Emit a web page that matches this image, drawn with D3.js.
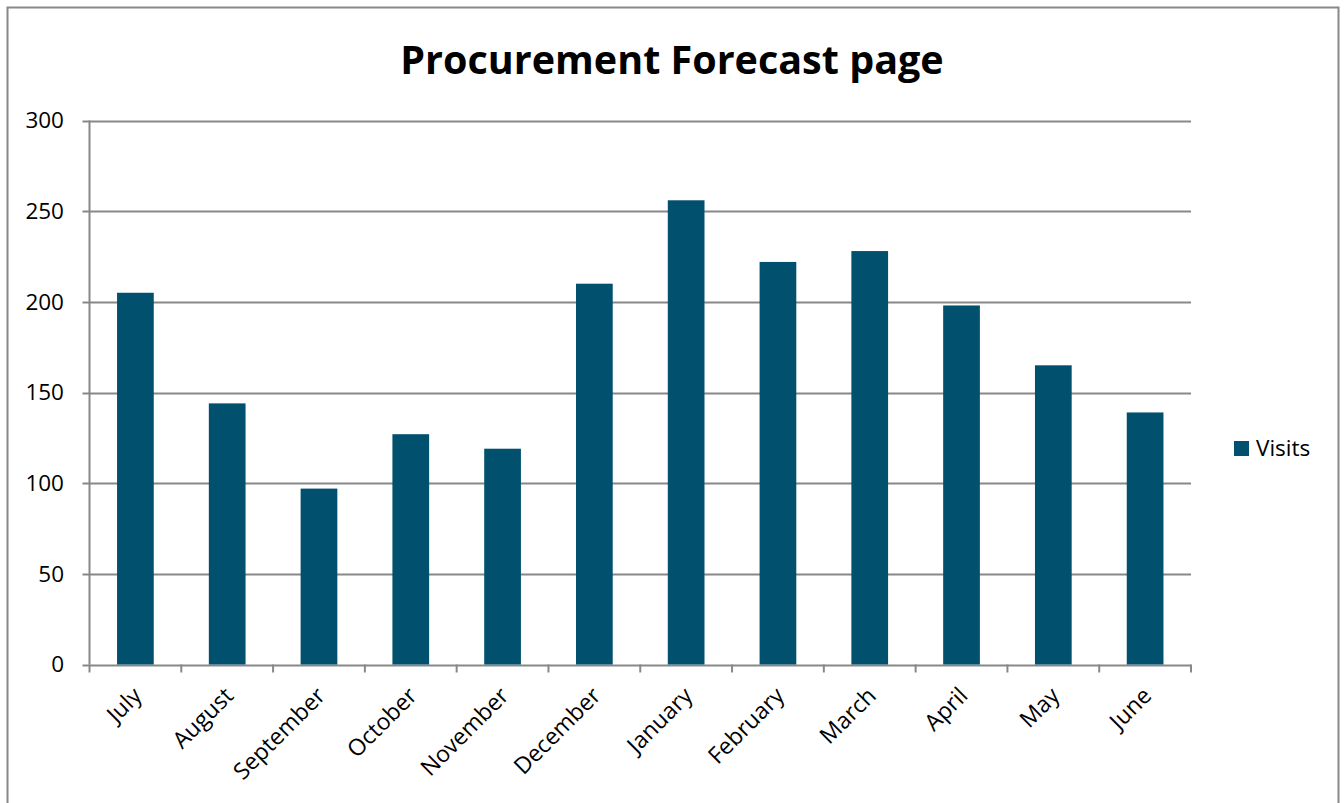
<!DOCTYPE html>
<html>
<head>
<meta charset="utf-8">
<script src="https://cdn.jsdelivr.net/npm/d3@7"></script>
<style>
  body { margin: 0; background: #fff; }
  text { font-family: "Open Sans", sans-serif; fill: #000; }
</style>
</head>
<body>
<svg id="chart" width="1344" height="803"></svg>
<script>
// chart data
const months = ['July', 'August', 'September', 'October', 'November', 'December',
    'January', 'February', 'March', 'April', 'May', 'June'];
const visits = [205, 144, 97, 127, 119, 210, 256, 222, 228, 198, 165, 139];
const yTicks = [0, 50, 100, 150, 200, 250, 300];
const seriesName = 'Visits';
const chartTitle = 'Procurement Forecast page';

const svg = d3.select('#chart');
const margin = {left: 89.5, right: 1191, top: 120.5, bottom: 664.5};
const barColor = '#00506e';
const gridColor = '#888888';

// outer frame
svg.append('rect')
    .attr('x', 7.5).attr('y', 7.5)
    .attr('width', 1331).attr('height', 810)
    .attr('fill', 'none')
    .attr('stroke', '#888')
    .attr('stroke-width', 2);

let x = d3.scaleBand()
    .domain(months)
    .range([margin.left, margin.right])
    .paddingInner(0.6)
    .paddingOuter(0.3);

let y = d3.scaleLinear()
    .domain([0, 300])
    .range([margin.bottom, margin.top]);

// horizontal gridlines
svg.append('g')
    .selectAll('line')
    .data(yTicks)
    .enter()
    .append('line')
    .attr('x1', margin.left - 7)
    .attr('x2', margin.right)
    .attr('y1', d => Math.round(y(d)) + 0.5)
    .attr('y2', d => Math.round(y(d)) + 0.5)
    .attr('stroke', gridColor)
    .attr('stroke-width', 2);

// y tick labels
svg.append('g')
    .selectAll('text')
    .data(yTicks)
    .enter()
    .append('text')
    .attr('x', 64)
    .attr('y', d => y(d))
    .attr('dy', '0.35em')
    .attr('text-anchor', 'end')
    .style('font-size', '22.5px')
    .text(d => d);

// bars
svg.append('g')
    .selectAll('rect')
    .data(visits)
    .enter()
    .append('rect')
    .attr('x', (d, i) => x(months[i]))
    .attr('y', d => y(d))
    .attr('width', x.bandwidth())
    .attr('height', d => y(0) - y(d))
    .attr('fill', barColor);

// axes lines
svg.append('line')
    .attr('x1', margin.left).attr('x2', margin.left)
    .attr('y1', margin.top).attr('y2', margin.bottom)
    .attr('stroke', gridColor).attr('stroke-width', 2);

let catEdges = d3.range(months.length + 1).map(i => margin.left + i * (margin.right - margin.left) / months.length);
svg.append('g')
    .selectAll('line')
    .data(catEdges)
    .enter()
    .append('line')
    .attr('x1', d => d).attr('x2', d => d)
    .attr('y1', margin.bottom).attr('y2', margin.bottom + 8)
    .attr('stroke', gridColor).attr('stroke-width', 2);

// x labels, rotated
svg.append('g')
    .selectAll('text')
    .data(months)
    .enter()
    .append('text')
    .attr('transform', d => 'translate(' + (x(d) + x.bandwidth() / 2 + 2) + ',' + (margin.bottom + 27) + ') rotate(-45)')
    .attr('text-anchor', 'end')
    .attr('dy', '0.35em')
    .style('font-size', '23px')
    .text(d => d);

// title
svg.append('text')
    .attr('x', 672)
    .attr('y', 74)
    .attr('text-anchor', 'middle')
    .style('font-size', '39.5px')
    .style('font-weight', 'bold')
    .text(chartTitle);

// legend
svg.append('rect')
    .attr('x', 1234).attr('y', 441)
    .attr('width', 15).attr('height', 15)
    .attr('fill', barColor);
svg.append('text')
    .attr('x', 1256)
    .attr('y', 448)
    .attr('dy', '0.35em')
    .style('font-size', '22.5px')
    .text(seriesName);
</script>
</body>
</html>
